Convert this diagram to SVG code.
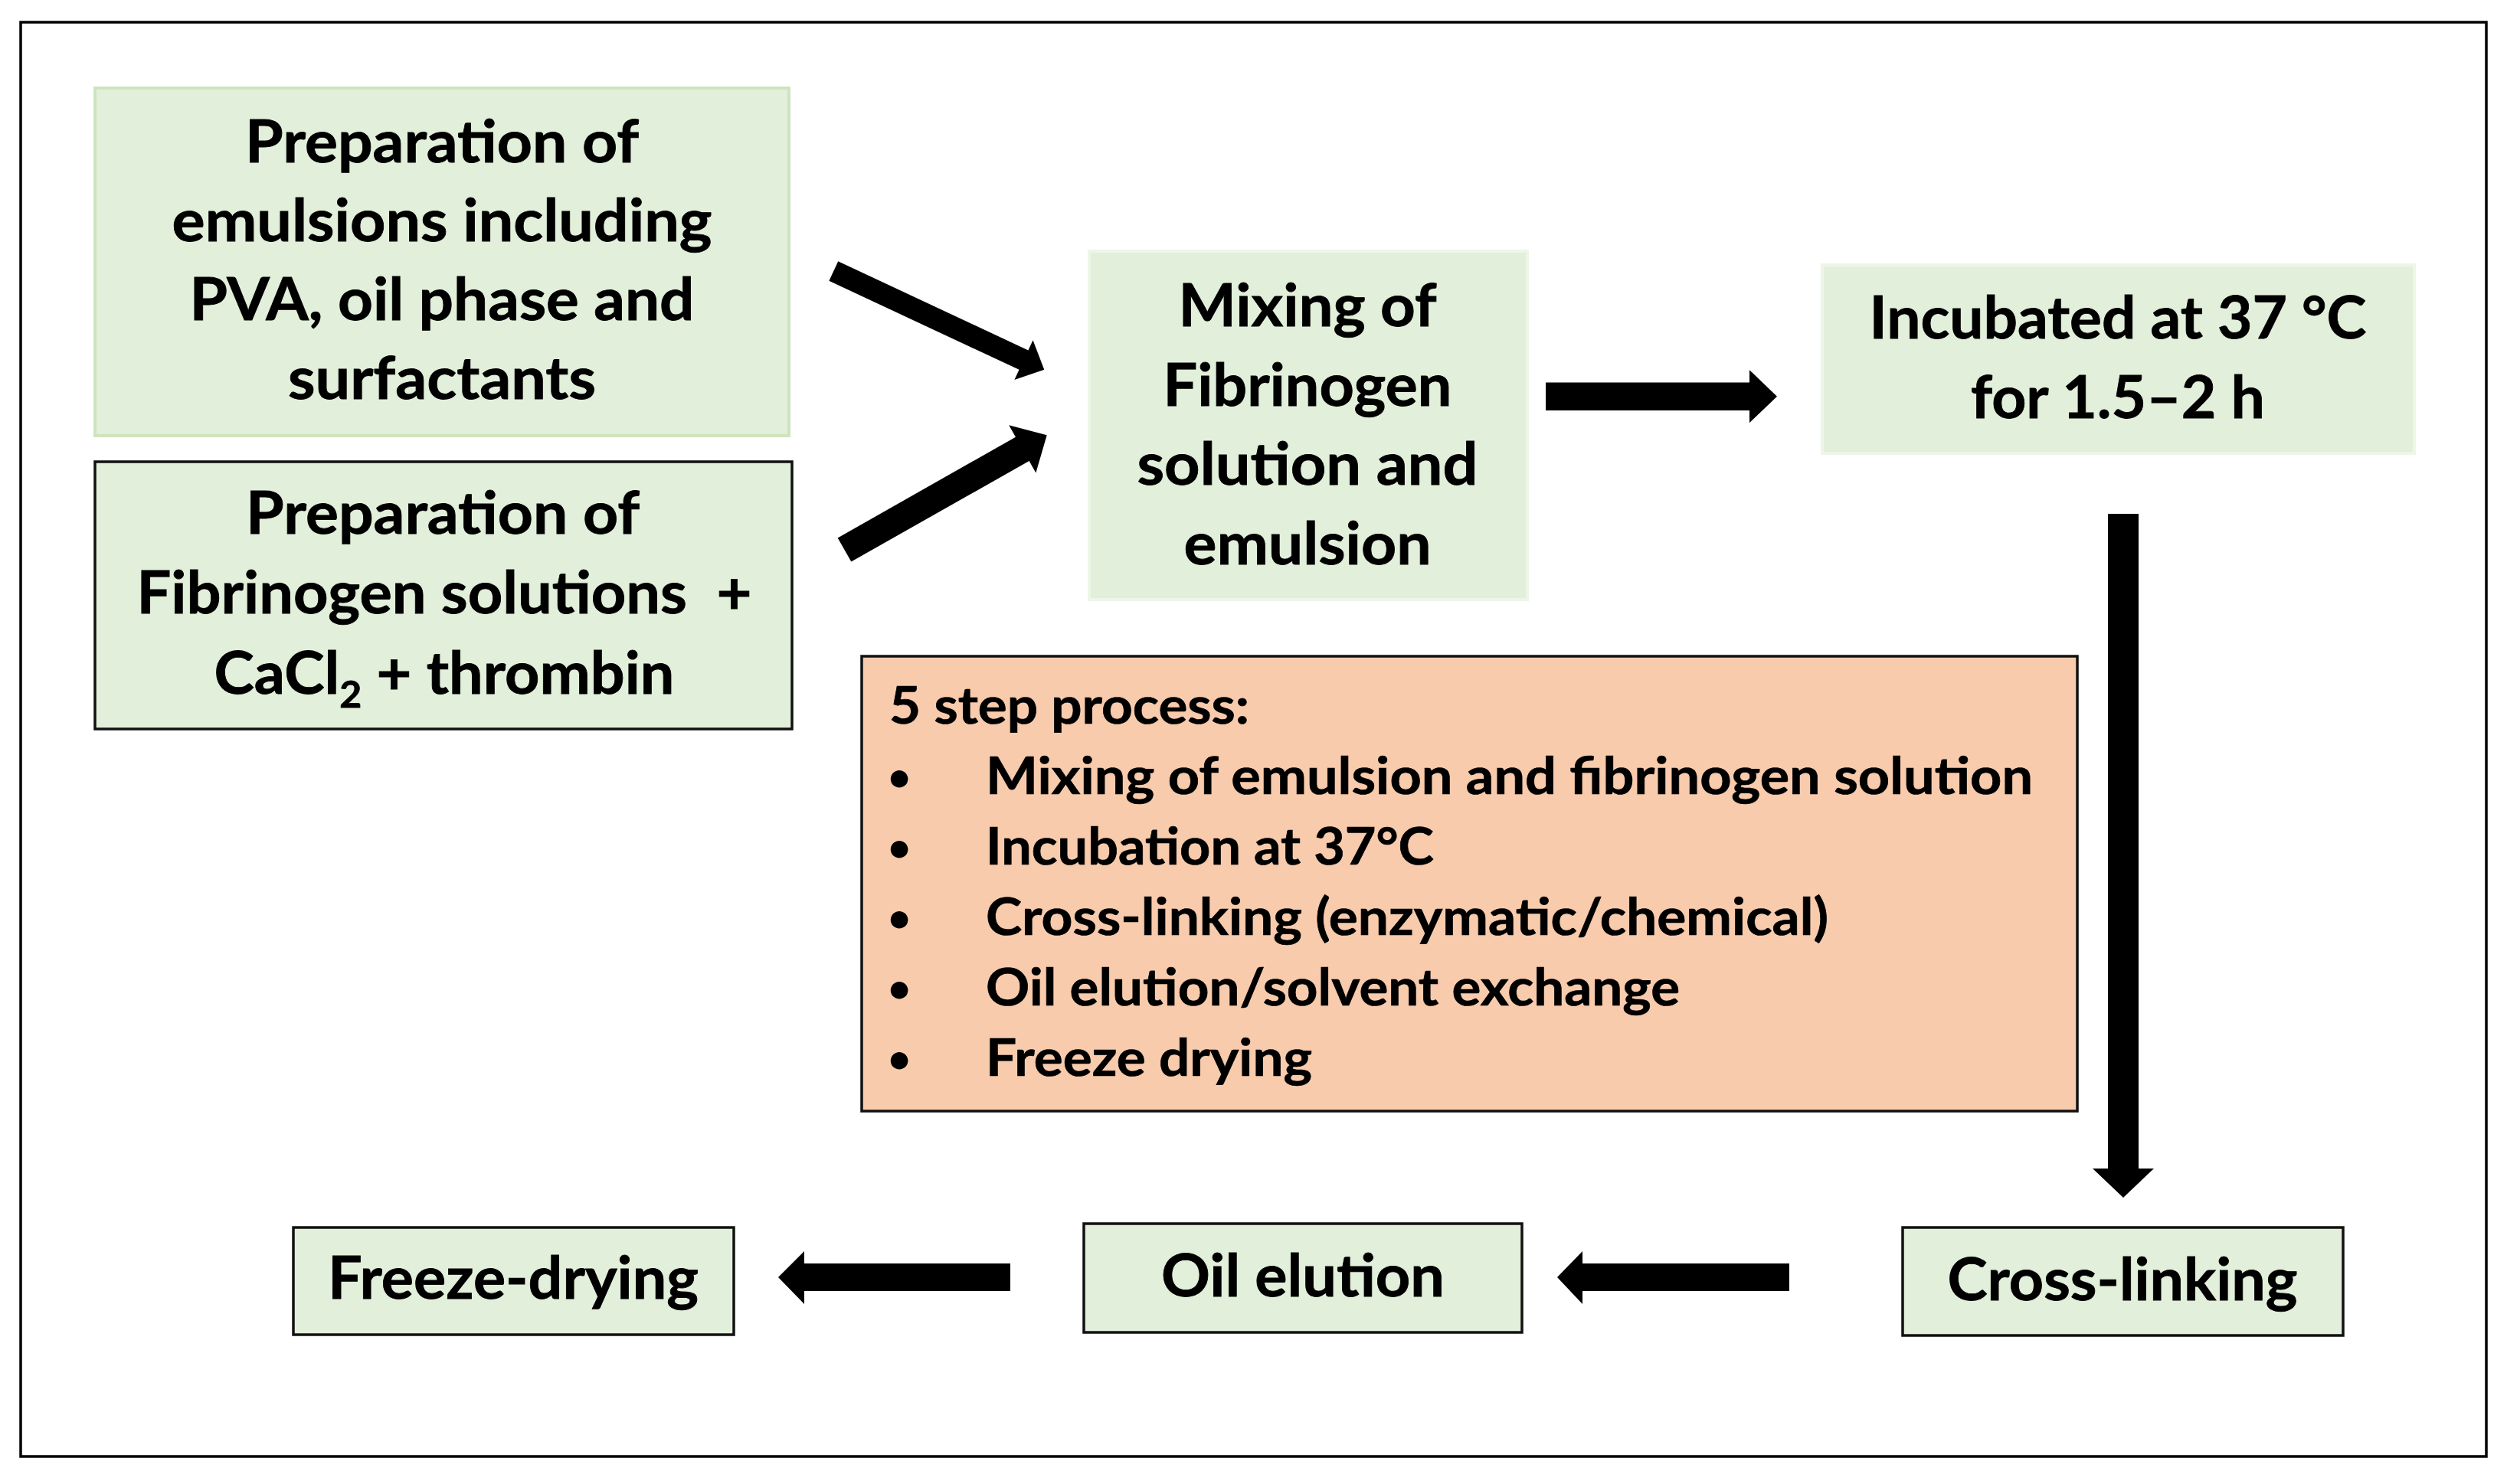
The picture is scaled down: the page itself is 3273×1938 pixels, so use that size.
<svg xmlns="http://www.w3.org/2000/svg" width="3273" height="1938" viewBox="0 0 3273 1938">
<style>
.bg{fill:#ffffff}
.frame{fill:none;stroke:#000;stroke-width:3.5}
.g{fill:#E2EFDA}
.soft{stroke:#CDE5BE;stroke-width:4}
.faint{stroke:#EDF6E7;stroke-width:4}
.dark{stroke:#111;stroke-width:3.5}
.orange{fill:#F8CBAD;stroke:#111;stroke-width:3.5}
.t{font-family:Lato,"Open Sans","Liberation Sans",sans-serif;font-weight:700;fill:#000;stroke:#000;stroke-width:0.8;font-size:76px;text-anchor:middle}
.s{font-family:Lato,"Open Sans","Liberation Sans",sans-serif;font-weight:700;fill:#000;stroke:#000;stroke-width:0.7;font-size:66px}
.b{font-family:Lato,"Open Sans","Liberation Sans",sans-serif;font-weight:700;fill:#000;font-size:52px;text-anchor:middle}
.arrow{fill:#000}
</style>
<rect class="bg" x="0" y="0" width="3273" height="1938"/>
<rect class="frame" x="27" y="29" width="3219" height="1873"/>

<g id="node-emulsions">
<rect class="g soft" x="124" y="115" width="906" height="454"/>
<text class="t" x="577" y="212" textLength="514" lengthAdjust="spacingAndGlyphs">Preparation of</text>
<text class="t" x="577" y="315" textLength="705" lengthAdjust="spacingAndGlyphs">emulsions including</text>
<text class="t" x="577" y="418" textLength="659" lengthAdjust="spacingAndGlyphs">PVA, oil phase and</text>
<text class="t" x="577" y="521" textLength="402" lengthAdjust="spacingAndGlyphs">surfactants</text>
</g>

<g id="node-fibrinogen-solutions">
<rect class="g dark" x="124" y="603" width="910" height="349"/>
<text class="t" x="578" y="697" textLength="514" lengthAdjust="spacingAndGlyphs">Preparation of</text>
<text class="t" x="580" y="801" textLength="803" lengthAdjust="spacingAndGlyphs" xml:space="preserve">Fibrinogen solutions  +</text>
<text class="t" x="580" y="906" textLength="601" lengthAdjust="spacingAndGlyphs">CaCl<tspan font-size="48" dy="18">2</tspan><tspan dy="-18"> + thrombin</tspan></text>
</g>

<g id="node-mixing">
<rect class="g faint" x="1422" y="328" width="572" height="455"/>
<text class="t" x="1707" y="426" textLength="337" lengthAdjust="spacingAndGlyphs">Mixing of</text>
<text class="t" x="1707" y="530" textLength="377" lengthAdjust="spacingAndGlyphs">Fibrinogen</text>
<text class="t" x="1707" y="633" textLength="445" lengthAdjust="spacingAndGlyphs">solution and</text>
<text class="t" x="1707" y="737" textLength="323" lengthAdjust="spacingAndGlyphs">emulsion</text>
</g>

<g id="node-incubated">
<rect class="g faint" x="2379" y="346" width="773" height="246"/>
<text class="t" x="2765" y="442" textLength="649" lengthAdjust="spacingAndGlyphs">Incubated at 37 °C</text>
<text class="t" x="2765" y="546" textLength="384" lengthAdjust="spacingAndGlyphs">for 1.5–2 h</text>
</g>

<g id="node-five-step">
<rect class="orange" x="1125" y="857" width="1587" height="594"/>
<text class="s" x="1161" y="945" textLength="470" lengthAdjust="spacingAndGlyphs">5 step process:</text>
<text class="b" x="1174" y="1033">•</text>
<text class="s" x="1287" y="1037" textLength="1367" lengthAdjust="spacingAndGlyphs">Mixing of emulsion and fibrinogen solution</text>
<text class="b" x="1174" y="1125">•</text>
<text class="s" x="1287" y="1129" textLength="585" lengthAdjust="spacingAndGlyphs">Incubation at 37°C</text>
<text class="b" x="1174" y="1217">•</text>
<text class="s" x="1287" y="1221" textLength="1100" lengthAdjust="spacingAndGlyphs">Cross-linking (enzymatic/chemical)</text>
<text class="b" x="1174" y="1309">•</text>
<text class="s" x="1287" y="1313" textLength="906" lengthAdjust="spacingAndGlyphs">Oil elution/solvent exchange</text>
<text class="b" x="1174" y="1401">•</text>
<text class="s" x="1287" y="1405" textLength="426" lengthAdjust="spacingAndGlyphs">Freeze drying</text>
</g>

<g id="node-freeze-drying">
<rect class="g dark" x="383" y="1603" width="575" height="140"/>
<text class="t" x="670" y="1696" textLength="484" lengthAdjust="spacingAndGlyphs">Freeze-drying</text>
</g>

<g id="node-oil-elution">
<rect class="g dark" x="1415" y="1598" width="572" height="142"/>
<text class="t" x="1701" y="1693" textLength="370" lengthAdjust="spacingAndGlyphs">Oil elution</text>
</g>

<g id="node-cross-linking">
<rect class="g dark" x="2484" y="1603" width="575" height="141"/>
<text class="t" x="2771" y="1698" textLength="457" lengthAdjust="spacingAndGlyphs">Cross-linking</text>
</g>

<g id="connectors">
<polygon class="arrow" transform="translate(1088.3 354) rotate(25.08)" points="0,-14 274,-14 274,-28.5 303.6,0 274,28.5 274,14 0,14"/>
<polygon class="arrow" transform="translate(1102.5 718) rotate(-29.54)" points="0,-17.9 267,-17.9 267,-35.7 303.7,0 267,35.7 267,17.9 0,17.9"/>
<polygon class="arrow" points="2018,499.4 2284,499.4 2284,483.2 2320,517.7 2284,552.2 2284,536 2018,536"/>
<polygon class="arrow" points="2752,671 2792,671 2792,1526 2812,1526 2772,1564 2732,1526 2752,1526"/>
<polygon class="arrow" points="2336,1650 2066,1650 2066,1634 2033,1668 2066,1703 2066,1686 2336,1686"/>
<polygon class="arrow" points="1319,1650 1050,1650 1050,1634 1016,1668 1050,1703 1050,1686 1319,1686"/>
</g>
</svg>
